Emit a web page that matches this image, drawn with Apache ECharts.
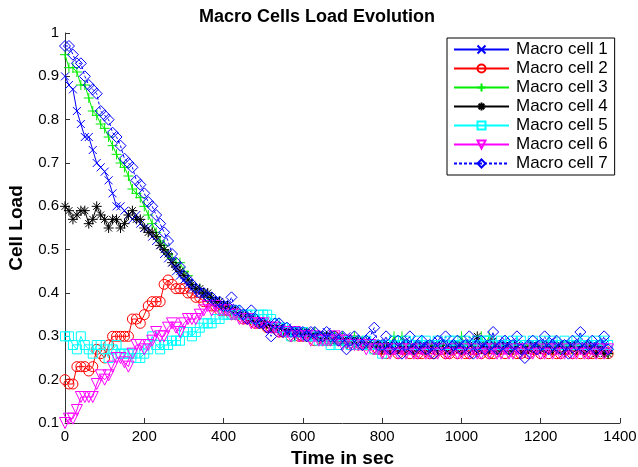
<!DOCTYPE html>
<html>
<head>
<meta charset="utf-8">
<script src="https://cdn.jsdelivr.net/npm/echarts@6/dist/echarts.min.js"></script>
<style>
  html, body { margin: 0; padding: 0; background: #fff; }
  #main { width: 638px; height: 467px; }
</style>
</head>
<body>
<div id="main"></div>
<script>
// time grid (sec)
var times = [
  0,10,20,30,40,50,60,70,80,90,
  100,110,120,130,140,150,160,170,180,190,
  200,210,220,230,240,250,260,270,280,290,
  300,310,320,330,340,350,360,370,380,390,
  400,410,420,430,440,450,460,470,480,490,
  500,510,520,530,540,550,560,570,580,590,
  600,610,620,630,640,650,660,670,680,690,
  700,710,720,730,740,750,760,770,780,790,
  800,810,820,830,840,850,860,870,880,890,
  900,910,920,930,940,950,960,970,980,990,
  1000,1010,1020,1030,1040,1050,1060,1070,1080,1090,
  1100,1110,1120,1130,1140,1150,1160,1170,1180,1190,
  1200,1210,1220,1230,1240,1250,1260,1270,1280,1290,
  1300,1310,1320,1330,1340,1350,1360,1370
];

var cell1 = [
  0.90,0.88,0.87,0.82,0.79,0.76,0.76,0.73,0.70,0.69,
  0.68,0.66,0.63,0.60,0.60,0.59,0.58,0.57,0.58,0.56,
  0.55,0.55,0.53,0.52,0.51,0.49,0.48,0.47,0.45,0.44,
  0.43,0.42,0.41,0.41,0.40,0.40,0.39,0.38,0.38,0.37,
  0.37,0.36,0.36,0.35,0.35,0.35,0.34,0.34,0.33,0.33,
  0.33,0.33,0.32,0.32,0.32,0.31,0.32,0.31,0.31,0.31,
  0.31,0.30,0.31,0.30,0.30,0.30,0.31,0.30,0.29,0.30,
  0.29,0.30,0.29,0.29,0.29,0.28,0.29,0.28,0.28,0.27,
  0.28,0.27,0.28,0.28,0.27,0.28,0.29,0.27,0.28,0.27,
  0.28,0.28,0.27,0.28,0.29,0.28,0.27,0.28,0.28,0.27,
  0.28,0.27,0.28,0.29,0.28,0.27,0.28,0.28,0.27,0.28,
  0.28,0.29,0.27,0.28,0.28,0.27,0.28,0.27,0.28,0.28,
  0.27,0.28,0.28,0.29,0.27,0.28,0.27,0.28,0.28,0.27,
  0.28,0.28,0.27,0.28,0.27,0.28,0.28,0.27
];
var cell2 = [
  0.20,0.19,0.19,0.23,0.23,0.23,0.22,0.23,0.27,0.26,
  0.25,0.28,0.30,0.30,0.30,0.30,0.30,0.34,0.34,0.33,
  0.35,0.37,0.38,0.38,0.38,0.42,0.43,0.42,0.41,0.41,
  0.41,0.40,0.40,0.39,0.39,0.38,0.38,0.37,0.37,0.36,
  0.36,0.36,0.35,0.35,0.35,0.34,0.34,0.34,0.33,0.33,
  0.33,0.32,0.32,0.32,0.31,0.31,0.31,0.30,0.31,0.30,
  0.30,0.30,0.30,0.29,0.30,0.29,0.29,0.29,0.30,0.29,
  0.29,0.29,0.28,0.29,0.28,0.28,0.28,0.28,0.27,0.27,
  0.27,0.26,0.27,0.27,0.26,0.27,0.27,0.26,0.27,0.26,
  0.26,0.27,0.26,0.26,0.27,0.27,0.26,0.26,0.27,0.26,
  0.27,0.26,0.26,0.27,0.27,0.26,0.27,0.26,0.26,0.27,
  0.27,0.26,0.27,0.27,0.26,0.26,0.27,0.26,0.27,0.27,
  0.26,0.27,0.26,0.27,0.26,0.26,0.27,0.27,0.26,0.27,
  0.26,0.27,0.26,0.26,0.27,0.26,0.27,0.26
];
var cell3 = [
  0.95,0.92,0.92,0.91,0.88,0.88,0.85,0.82,0.81,0.79,
  0.78,0.76,0.74,0.72,0.70,0.69,0.67,0.64,0.63,0.62,
  0.60,0.58,0.56,0.54,0.52,0.51,0.49,0.48,0.47,0.47,
  0.45,0.44,0.42,0.41,0.41,0.40,0.39,0.39,0.38,0.38,
  0.37,0.37,0.36,0.36,0.35,0.35,0.34,0.34,0.34,0.33,
  0.33,0.33,0.32,0.32,0.32,0.31,0.31,0.31,0.31,0.31,
  0.31,0.31,0.30,0.31,0.30,0.30,0.30,0.30,0.30,0.29,
  0.30,0.29,0.29,0.30,0.29,0.29,0.29,0.28,0.28,0.28,
  0.28,0.28,0.28,0.30,0.28,0.30,0.28,0.28,0.27,0.28,
  0.28,0.28,0.28,0.27,0.28,0.28,0.28,0.28,0.28,0.28,
  0.30,0.28,0.28,0.27,0.28,0.30,0.28,0.30,0.28,0.27,
  0.28,0.28,0.27,0.28,0.28,0.28,0.27,0.28,0.28,0.27,
  0.28,0.28,0.28,0.27,0.28,0.27,0.28,0.28,0.27,0.28,
  0.27,0.28,0.28,0.27,0.28,0.27,0.27,0.26
];
var cell4 = [
  0.60,0.59,0.57,0.58,0.59,0.59,0.56,0.57,0.60,0.58,
  0.57,0.55,0.57,0.57,0.55,0.56,0.58,0.59,0.57,0.57,
  0.55,0.54,0.54,0.53,0.51,0.50,0.49,0.47,0.46,0.45,
  0.44,0.43,0.42,0.41,0.41,0.40,0.40,0.39,0.38,0.38,
  0.37,0.37,0.36,0.36,0.35,0.35,0.34,0.34,0.34,0.33,
  0.33,0.33,0.32,0.32,0.32,0.31,0.31,0.31,0.30,0.31,
  0.30,0.31,0.30,0.30,0.30,0.29,0.30,0.29,0.29,0.29,
  0.29,0.29,0.29,0.28,0.29,0.28,0.28,0.28,0.28,0.28,
  0.27,0.28,0.27,0.28,0.27,0.27,0.28,0.27,0.27,0.28,
  0.27,0.27,0.28,0.27,0.27,0.28,0.27,0.27,0.27,0.28,
  0.27,0.27,0.28,0.27,0.30,0.27,0.28,0.27,0.29,0.27,
  0.27,0.28,0.27,0.27,0.28,0.27,0.27,0.27,0.28,0.27,
  0.27,0.28,0.27,0.27,0.27,0.28,0.27,0.27,0.28,0.27,
  0.27,0.27,0.28,0.27,0.26,0.27,0.26,0.26
];
var cell5 = [
  0.30,0.30,0.28,0.27,0.30,0.28,0.27,0.26,0.28,0.28,
  0.27,0.25,0.27,0.28,0.26,0.26,0.26,0.26,0.25,0.25,
  0.26,0.27,0.30,0.28,0.27,0.28,0.28,0.29,0.29,0.29,
  0.31,0.31,0.30,0.31,0.32,0.33,0.33,0.33,0.34,0.34,
  0.35,0.35,0.35,0.36,0.35,0.35,0.35,0.35,0.34,0.35,
  0.35,0.35,0.34,0.33,0.32,0.32,0.31,0.30,0.31,0.31,
  0.31,0.30,0.30,0.30,0.29,0.29,0.29,0.28,0.29,0.28,
  0.29,0.29,0.28,0.29,0.28,0.28,0.29,0.28,0.27,0.28,
  0.26,0.28,0.28,0.29,0.28,0.28,0.29,0.28,0.28,0.29,
  0.28,0.29,0.28,0.28,0.29,0.28,0.28,0.29,0.29,0.28,
  0.28,0.29,0.28,0.28,0.29,0.28,0.29,0.29,0.28,0.28,
  0.29,0.28,0.28,0.29,0.28,0.29,0.28,0.28,0.29,0.28,
  0.28,0.29,0.28,0.29,0.28,0.28,0.29,0.28,0.28,0.29,
  0.28,0.29,0.28,0.28,0.29,0.28,0.29,0.28
];
var cell6 = [
  0.10,0.11,0.11,0.13,0.16,0.16,0.16,0.16,0.19,0.21,
  0.20,0.21,0.23,0.25,0.25,0.24,0.23,0.26,0.28,0.28,
  0.27,0.28,0.29,0.31,0.30,0.30,0.32,0.33,0.32,0.31,
  0.33,0.34,0.34,0.34,0.35,0.36,0.37,0.36,0.37,0.36,
  0.36,0.36,0.35,0.35,0.34,0.34,0.34,0.33,0.33,0.33,
  0.33,0.32,0.32,0.32,0.31,0.31,0.31,0.30,0.31,0.30,
  0.30,0.30,0.29,0.30,0.29,0.29,0.29,0.29,0.30,0.29,
  0.28,0.29,0.28,0.28,0.28,0.28,0.27,0.28,0.27,0.27,
  0.26,0.27,0.26,0.27,0.26,0.27,0.26,0.27,0.26,0.26,
  0.27,0.26,0.26,0.27,0.26,0.27,0.26,0.26,0.27,0.26,
  0.26,0.27,0.26,0.27,0.26,0.26,0.27,0.26,0.27,0.26,
  0.26,0.27,0.26,0.26,0.27,0.26,0.27,0.26,0.26,0.27,
  0.26,0.26,0.27,0.26,0.27,0.26,0.26,0.27,0.26,0.26,
  0.27,0.26,0.26,0.27,0.26,0.27,0.26,0.27
];
var cell7 = [
  0.97,0.97,0.95,0.93,0.93,0.90,0.88,0.87,0.86,0.82,
  0.81,0.80,0.77,0.76,0.74,0.71,0.70,0.69,0.66,0.65,
  0.63,0.61,0.60,0.58,0.56,0.54,0.52,0.49,0.47,0.46,
  0.44,0.43,0.42,0.41,0.40,0.40,0.39,0.39,0.38,0.38,
  0.37,0.37,0.39,0.36,0.36,0.35,0.34,0.36,0.34,0.33,
  0.33,0.32,0.30,0.33,0.33,0.31,0.32,0.31,0.31,0.31,
  0.31,0.30,0.31,0.31,0.30,0.30,0.31,0.30,0.30,0.29,
  0.30,0.27,0.29,0.30,0.29,0.28,0.29,0.30,0.32,0.28,
  0.28,0.30,0.27,0.28,0.29,0.26,0.28,0.30,0.27,0.28,
  0.29,0.27,0.28,0.26,0.29,0.28,0.30,0.27,0.28,0.29,
  0.27,0.28,0.30,0.26,0.28,0.29,0.27,0.28,0.31,0.27,
  0.28,0.29,0.27,0.28,0.30,0.27,0.25,0.28,0.29,0.27,
  0.28,0.30,0.27,0.28,0.29,0.27,0.28,0.26,0.29,0.28,
  0.31,0.27,0.28,0.29,0.27,0.28,0.30,0.27
];

var names = ['Macro cell 1','Macro cell 2','Macro cell 3','Macro cell 4','Macro cell 5','Macro cell 6','Macro cell 7'];
var values = [cell1, cell2, cell3, cell4, cell5, cell6, cell7];
var colors = ['#0000ff','#ff0000','#00ee00','#000000','#00ffff','#ff00ff','#0000ff'];

// matlab-like marker shapes
var markers = [
  {symbol: 'path://M0,0L10,10M10,0L0,10', size: 8},
  {symbol: 'circle', size: 10},
  {symbol: 'path://M5,0L5,10M0,5L10,5', size: 10},
  {symbol: 'path://M5,0L5,10M0,5L10,5M1.5,1.5L8.5,8.5M8.5,1.5L1.5,8.5', size: 10},
  {symbol: 'rect', size: 9},
  {symbol: 'path://M0,0L10,0L5,9Z', size: 11},
  {symbol: 'path://M5,0L10,5L5,10L0,5Z', size: 11}
];

function pairs(v) {
  var out = [];
  for (var i = 0; i < v.length; i++) out.push([times[i], v[i]]);
  return out;
}

var series = [];
for (var k = 0; k < 7; k++) {
  series.push({
    name: names[k],
    type: 'line',
    data: pairs(values[k]),
    symbol: markers[k].symbol,
    symbolSize: markers[k].size,
    showAllSymbol: true,
    lineStyle: {color: colors[k], width: 1, type: k == 6 ? [3, 2] : 'solid'},
    itemStyle: {color: 'rgba(255,255,255,0)', borderColor: colors[k], borderWidth: 1},
    emphasis: {disabled: true}
  });
}

var font = '"Liberation Sans", Arial, Helvetica, sans-serif';
var myChart = echarts.init(document.getElementById('main'));
myChart.setOption({
  animation: false,
  backgroundColor: '#fff',
  textStyle: {fontFamily: font},
  title: {
    text: 'Macro Cells Load Evolution',
    left: 194,
    top: 3,
    textStyle: {fontSize: 18, fontWeight: 'bold', color: '#000', fontFamily: font}
  },
  grid: {left: 65, right: 18, top: 33, bottom: 44, containLabel: false, outerBoundsMode: 'none'},
  legend: {
    orient: 'vertical',
    left: 447,
    top: 38,
    padding: [3, 7, 3, 6],
    itemWidth: 55,
    itemHeight: 10,
    itemGap: 2,
    borderColor: '#000',
    borderWidth: 1,
    backgroundColor: '#fff',
    textStyle: {fontSize: 17, lineHeight: 16, color: '#000', fontFamily: font, padding: [0, 0, 0, 2]},
    data: names
  },
  xAxis: {
    type: 'value',
    min: 0,
    max: 1400,
    interval: 200,
    name: 'Time in sec',
    nameLocation: 'middle',
    nameGap: 26,
    nameTextStyle: {fontSize: 19, fontWeight: 'bold', color: '#000'},
    axisLine: {lineStyle: {color: '#333', width: 1}},
    axisTick: {inside: true, length: 5, lineStyle: {color: '#333'}},
    axisLabel: {fontSize: 15, color: '#000', margin: 6,
      formatter: function (v) { return String(v); }},
    splitLine: {show: false}
  },
  yAxis: {
    type: 'value',
    min: 0.1,
    max: 1,
    interval: 0.1,
    name: 'Cell Load',
    nameLocation: 'middle',
    nameGap: 39,
    nameTextStyle: {fontSize: 19, fontWeight: 'bold', color: '#000'},
    axisLine: {show: true, lineStyle: {color: '#333', width: 1}},
    axisTick: {show: true, inside: true, length: 5, lineStyle: {color: '#333'}},
    axisLabel: {fontSize: 15, color: '#000', margin: 6,
      formatter: function (v) { return String(+v.toFixed(1)); }},
    splitLine: {show: false}
  },
  series: series
});
</script>
</body>
</html>
